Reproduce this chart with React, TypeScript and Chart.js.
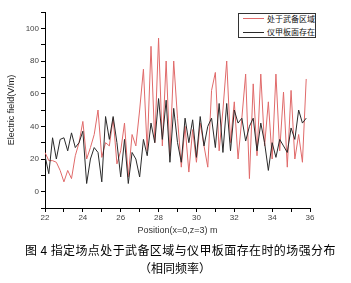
import React, { useEffect, useRef } from "react";
import { Chart, registerables } from "chart.js";

Chart.register(...registerables);

// Position along the line (m)
const positions = [
  22, 22.2, 22.4, 22.6, 22.8, 23, 23.2, 23.4, 23.6, 23.8,
  24, 24.2, 24.4, 24.6, 24.8, 25, 25.2, 25.4, 25.6, 25.8,
  26, 26.2, 26.4, 26.6, 26.8, 27, 27.2, 27.4, 27.6, 27.8,
  28, 28.2, 28.4, 28.6, 28.8, 29, 29.2, 29.4, 29.6, 29.8,
  30, 30.2, 30.4, 30.6, 30.8, 31, 31.2, 31.4, 31.6, 31.8,
  32, 32.2, 32.4, 32.6, 32.8, 33, 33.2, 33.4, 33.6, 33.8,
  34, 34.2, 34.4, 34.6, 34.8, 35, 35.2, 35.4, 35.6, 35.8,
];

// 处于武备区域 (red)
const armamentArea = [
  24, 19, 19, 18, 13, 6, 13, 8, 22, 30,
  43, 20, 27, 35, 50, 21, 30, 28, 45, 17,
  25, 42, 9, 35, 28, 50, 75, 25, 89, 30,
  94, 28, 80, 22, 80, 45, 15, 40, 12, 38,
  18, 42, 28, 15, 62, 73, 25, 50, 80, 30,
  55, 20, 45, 72, 8, 66, 22, 72, 28, 55,
  20, 72, 25, 61, 15, 62, 20, 35, 18, 69,
];

// 仪甲板面存在 (black)
const deckPresent = [
  22, 11, 33, 20, 32, 33, 25, 36, 27, 30,
  37, 5, 20, 27, 24, 6, 46, 32, 46, 30,
  9, 32, 5, 24, 20, 9, 32, 22, 42, 30,
  57, 32, 56, 18, 51, 30, 18, 45, 30, 44,
  21, 46, 28, 40, 45, 27, 54, 24, 54, 25,
  50, 42, 45, 31, 40, 45, 25, 42, 30, 13,
  30, 21, 32, 28, 24, 39, 32, 50, 42, 45,
];

const seriesNames = ["处于武备区域", "仪甲板面存在"];
const xTitle = "Position(x=0,z=3) m";
const yTitle = "Electric field(V/m)";
const caption1 = "图 4  指定场点处于武备区域与仪甲板面存在时的场强分布";
const caption2 = "（相同频率）";

const RED = "#e06a6a";
const BLACK = "#2a2a2a";

export default function App() {
  const canvasRef = useRef<HTMLCanvasElement | null>(null);

  useEffect(() => {
    document.body.style.margin = "0";
    const canvas = canvasRef.current;
    if (!canvas) return;
    const tickFont = { family: "Liberation Sans, Arial, sans-serif", size: 8 };
    const chart = new Chart(canvas, {
      type: "line",
      data: {
        datasets: [
          {
            label: seriesNames[0],
            data: positions.map((x, i) => ({ x, y: armamentArea[i] })),
            borderColor: RED,
            borderWidth: 1,
            pointRadius: 0,
            tension: 0,
            order: 1,
          },
          {
            label: seriesNames[1],
            data: positions.map((x, i) => ({ x, y: deckPresent[i] })),
            borderColor: BLACK,
            borderWidth: 1,
            pointRadius: 0,
            tension: 0,
            order: 0,
          },
        ],
      },
      options: {
        animation: false,
        responsive: false,
        devicePixelRatio: 1,
        layout: { padding: { left: 0, right: 41, top: 12, bottom: 45 } },
        plugins: {
          legend: { display: false },
          tooltip: { enabled: false },
        },
        scales: {
          x: {
            type: "linear",
            min: 22,
            max: 36,
            afterFit: (s: any) => {
              s.height = 30;
            },
            border: { display: true, color: "#000", width: 1 },
            grid: {
              display: true,
              drawOnChartArea: false,
              drawTicks: true,
              tickLength: 4,
              color: "#000",
            },
            ticks: {
              stepSize: 1,
              autoSkip: false,
              maxRotation: 0,
              padding: 1,
              color: "#444",
              font: tickFont,
              callback: (v: any) => (Number(v) % 2 === 0 ? String(v) : ""),
            },
            title: {
              display: true,
              text: xTitle,
              color: "#333",
              font: { family: "Liberation Sans, Arial, sans-serif", size: 9 },
              padding: { top: 0, bottom: 2 },
            },
          },
          y: {
            type: "linear",
            min: -10,
            max: 110,
            afterFit: (s: any) => {
              s.width = 45;
            },
            border: { display: true, color: "#000", width: 1 },
            grid: {
              display: true,
              drawOnChartArea: false,
              drawTicks: true,
              tickLength: 4,
              color: "#000",
            },
            ticks: {
              stepSize: 10,
              autoSkip: false,
              padding: 2,
              color: "#444",
              font: tickFont,
              callback: (v: any) => {
                const n = Number(v);
                return n % 20 === 0 && n >= 0 && n <= 100 ? String(n) : "";
              },
            },
            title: {
              display: true,
              text: yTitle,
              color: "#222",
              font: { family: "Liberation Sans, Arial, sans-serif", size: 9 },
              padding: { top: 6, bottom: 0 },
            },
          },
        },
      },
    });
    return () => chart.destroy();
  }, []);

  const legendText: React.CSSProperties = {
    position: "absolute",
    left: 28,
    fontFamily: "'Noto Sans CJK SC', sans-serif",
    fontSize: 8,
    lineHeight: "10px",
    color: "#111",
    whiteSpace: "nowrap",
  };

  return (
    <div
      style={{
        position: "fixed",
        left: 0,
        top: 0,
        width: 351,
        height: 283,
        background: "#fff",
        overflow: "hidden",
      }}
    >
      <canvas
        ref={canvasRef}
        width={351}
        height={283}
        style={{ position: "absolute", left: 0, top: 0, width: 351, height: 283 }}
      />
      {/* legend */}
      <div
        style={{
          position: "absolute",
          left: 238,
          top: 13,
          width: 78,
          height: 25,
          border: "1px solid #333",
          background: "#fff",
          boxSizing: "border-box",
        }}
      >
        <div style={{ position: "absolute", left: 4, top: 4, width: 21, height: 1, background: RED }} />
        <div style={{ ...legendText, top: 0 }}>{seriesNames[0]}</div>
        <div style={{ position: "absolute", left: 4, top: 18, width: 21, height: 1, background: BLACK }} />
        <div style={{ ...legendText, top: 13 }}>{seriesNames[1]}</div>
      </div>
      {/* captions */}
      <div
        style={{
          position: "absolute",
          left: 25,
          top: 242,
          fontFamily: "'Noto Sans CJK SC', sans-serif",
          fontSize: 12,
          lineHeight: "16px",
          letterSpacing: 0.4,
          color: "#000",
          whiteSpace: "nowrap",
        }}
      >
        {caption1}
      </div>
      <div
        style={{
          position: "absolute",
          left: 139,
          top: 260,
          fontFamily: "'Noto Sans CJK SC', sans-serif",
          fontSize: 12,
          lineHeight: "16px",
          color: "#000",
          whiteSpace: "nowrap",
        }}
      >
        {caption2}
      </div>
    </div>
  );
}
